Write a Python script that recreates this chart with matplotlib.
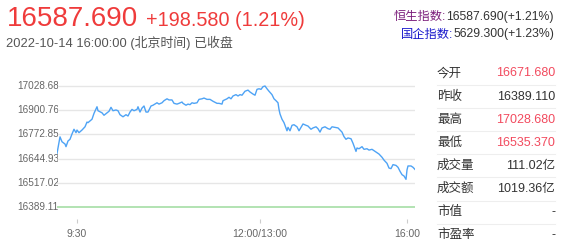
import matplotlib
matplotlib.use("Agg")
import matplotlib.pyplot as plt
from matplotlib.lines import Line2D
from matplotlib.transforms import Bbox, TransformedBbox, blended_transform_factory

plt.rcParams['font.family'] = ['Liberation Sans', 'Noto Sans CJK SC', 'DejaVu Sans']

# ---------------- data ----------------
prev_close = 16389.110
idx_hi = 17028.680
last_price = "16587.690"
change_text = "+198.580 (1.21%)"
timestamp_text = "2022-10-14 16:00:00 (北京时间) 已收盘"

summary_labels = ["恒生指数:", "国企指数:"]
summary_values = ["16587.690(+1.21%)", "5629.300(+1.23%)"]

table_labels = ["今开", "昨收", "最高", "最低", "成交量", "成交额", "市值", "市盈率"]
table_values = ["16671.680", "16389.110", "17028.680", "16535.370", "111.02亿", "1019.36亿", "-", "-"]
table_red = [True, False, True, True, False, False, False, False]

time_ticks = [19.7, 203, 350.3]
time_labels = ["9:30", "12:00/13:00", "16:00"]

t = [0, 3, 5, 8, 9, 11, 13, 15, 17, 19, 20, 22, 25, 28, 30, 31, 35, 37, 40, 41,
     45, 47, 50, 52, 54, 56, 59, 61, 63, 66, 69, 71, 73, 75, 77, 80, 81, 83, 85, 87,
     89, 91, 94, 96, 100, 102, 105, 107, 110, 112, 115, 117, 120, 122, 125, 126, 129, 131, 133, 135,
     137, 140, 142, 145, 147, 150, 153, 156, 160, 162, 165, 166, 170, 172, 174, 176, 179, 181, 183, 185,
     188, 191, 193, 196, 198, 200, 202, 204, 206, 208, 210, 212, 215, 217, 219, 221, 222, 223, 225, 227,
     230, 231, 233, 235, 237, 240, 242, 244, 246, 249, 251, 254, 256, 259, 261, 263, 265, 268, 271, 273,
     275, 278, 281, 283, 285, 287, 289, 291, 294, 296, 299, 300, 302, 305, 307, 310, 312, 315, 317, 320,
     322, 325, 327, 330, 332, 334, 336, 339, 341, 343, 345, 347, 349, 350, 351, 354, 356, 358]
price = [16671.68, 16760, 16734, 16722, 16708, 16738, 16747, 16775, 16800, 16782, 16796, 16782, 16796, 16813, 16838, 16835, 16853, 16884, 16919, 16898,
         16887, 16874, 16887, 16895, 16916, 16898, 16902, 16898, 16877, 16866, 16877, 16870, 16891, 16905, 16898, 16905, 16919, 16891, 16912, 16923,
         16891, 16891, 16923, 16927, 16940, 16933, 16940, 16951, 16961, 16955, 16955, 16937, 16933, 16937, 16944, 16937, 16927, 16933, 16930, 16940,
         16937, 16940, 16958, 16961, 16965, 16958, 16958, 16948, 16937, 16937, 16933, 16951, 16961, 16969, 16961, 16976, 16983, 16976, 16983, 16980,
         17001, 17007, 16997, 16986, 16980, 17011, 17014, 17011, 17025, 17028.68, 17014, 17001, 16983, 16961, 16951, 16940, 16905, 16881, 16853, 16835,
         16792, 16810, 16792, 16821, 16824, 16813, 16792, 16810, 16828, 16821, 16817, 16800, 16807, 16813, 16803, 16785, 16807, 16813, 16803, 16800,
         16813, 16810, 16807, 16796, 16785, 16761, 16747, 16754, 16750, 16726, 16683, 16701, 16697, 16708, 16694, 16697, 16690, 16694, 16687, 16676,
         16669, 16652, 16637, 16620, 16595, 16592, 16613, 16609, 16599, 16578, 16560, 16553, 16535.37, 16585, 16606, 16606, 16599, 16587.69]

# ---------------- layout helpers ----------------
W, H = 567, 243
fig = plt.figure(figsize=(W / 100, H / 100), dpi=100)
fig.patch.set_facecolor('white')

def px(x):
    return x / W

def py(y):
    return 1 - y / H

RED = '#ef3b3b'
RED2 = '#f24a5e'
DARK = '#333333'
GRAY = '#666666'

# ---------------- chart ----------------
ax_l, ax_r, ax_t, ax_b = 57, 415, 80, 219
ax = fig.add_axes([px(ax_l), py(ax_b), px(ax_r - ax_l), (ax_b - ax_t) / H])
step = (idx_hi - prev_close) / 5
grid_vals = [prev_close + k * step for k in range(6)]
ppu = 121 / (idx_hi - prev_close)  # pixels per unit
ax.set_ylim(prev_close - (ax_b - 207) / ppu, idx_hi + (86 - ax_t) / ppu)
ax.set_xlim(0, 358)

for gv in grid_vals[1:]:
    ax.axhline(gv, color='#e6e6e6', lw=1, zorder=1)
ax.axhline(prev_close, color='#a6dea6', lw=1.2, zorder=2)
ax.plot(t, price, color='#4ea3f5', lw=1.0, zorder=3)

for s in ax.spines.values():
    s.set_visible(False)
ax.set_yticks([])
ax.set_xticks(time_ticks)
ax.set_xticklabels(time_labels, fontsize=7.5, color=GRAY)
ax.tick_params(axis='x', length=3, width=0.8, color='#cccccc', pad=4)
ax.patch.set_alpha(0)

# y labels (clipped by plot area, as in the original)
clip = TransformedBbox(Bbox.from_extents(0, 0, px(58), 1), fig.transFigure)
btr = blended_transform_factory(fig.transFigure, ax.transData)
for gv in grid_vals:
    tx = fig.text(px(17), gv, f"{gv:.3f}", transform=btr, fontsize=7.2,
                  color=GRAY, ha='left', va='center')
    tx.set_clip_box(clip)
    tx.set_clip_on(True)

# ---------------- header ----------------
fig.text(px(7), py(26), last_price, fontsize=20, color=RED, ha='left', va='baseline')
fig.text(px(146), py(26), change_text, fontsize=14.3, color=RED, ha='left', va='baseline')
fig.text(px(6), py(43), timestamp_text, fontsize=9.3, color='#555555', ha='left', va='center')

renderer = fig.canvas.get_renderer()
lab_colors = ['#7b1e7b', '#1a1acc']
for i, (lab, val) in enumerate(zip(summary_labels, summary_values)):
    yy = py(20 + i * 17.5)
    vt = fig.text(px(554), yy, val, fontsize=8.8, color=DARK, ha='right', va='baseline')
    bb = vt.get_window_extent(renderer=renderer)
    fig.text(bb.x0 / (W), yy, lab, fontsize=8.8, color=lab_colors[i], ha='right', va='baseline')

# ---------------- table ----------------
row0, row_h = 73.5, 23.1
for i, (lab, val, red) in enumerate(zip(table_labels, table_values, table_red)):
    yc = row0 + i * row_h
    fig.text(px(437), py(yc), lab, fontsize=9, color=DARK, ha='left', va='center')
    fig.text(px(555), py(yc), val, fontsize=9, color=RED2 if red else DARK, ha='right', va='center')
    if i < len(table_labels) - 1:
        ys = py(yc + row_h / 2)
        fig.add_artist(Line2D([px(437), px(555)], [ys, ys], transform=fig.transFigure,
                              color='#eeeeee', lw=0.8))

fig.savefig('out.png', dpi=100, facecolor='white')
